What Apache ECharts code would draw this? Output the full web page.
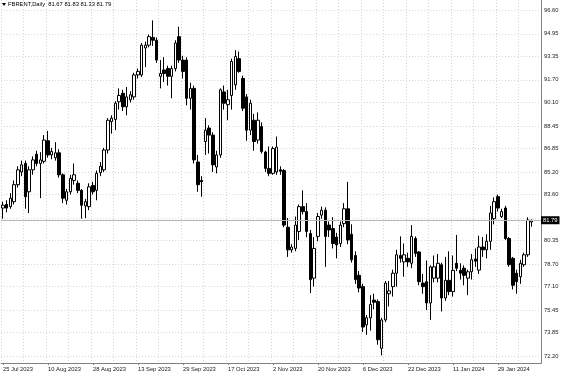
<!DOCTYPE html>
<html>
<head>
<meta charset="utf-8">
<script src="https://cdn.jsdelivr.net/npm/echarts@6/dist/echarts.min.js"></script>
<style>
html,body{margin:0;padding:0;background:#fff;}
#chart{width:564px;height:376px;}
</style>
</head>
<body>
<div id="chart"></div>
<script>
const symbolName = 'FBRENT,Daily';

const dates = [
'2023-07-25','2023-07-26','2023-07-27','2023-07-28','2023-07-31',
'2023-08-01','2023-08-02','2023-08-03','2023-08-04','2023-08-07','2023-08-08','2023-08-09','2023-08-10','2023-08-11','2023-08-14','2023-08-15','2023-08-16','2023-08-17','2023-08-18','2023-08-21','2023-08-22','2023-08-23','2023-08-24','2023-08-25','2023-08-28','2023-08-29','2023-08-30','2023-08-31',
'2023-09-01','2023-09-04','2023-09-05','2023-09-06','2023-09-07','2023-09-08','2023-09-11','2023-09-12','2023-09-13','2023-09-14','2023-09-15','2023-09-18','2023-09-19','2023-09-20','2023-09-21','2023-09-22','2023-09-25','2023-09-26','2023-09-27','2023-09-28','2023-09-29',
'2023-10-02','2023-10-03','2023-10-04','2023-10-05','2023-10-06','2023-10-09','2023-10-10','2023-10-11','2023-10-12','2023-10-13','2023-10-16','2023-10-17','2023-10-18','2023-10-19','2023-10-20','2023-10-23','2023-10-24','2023-10-25','2023-10-26','2023-10-27','2023-10-30','2023-10-31',
'2023-11-01','2023-11-02','2023-11-03','2023-11-06','2023-11-07','2023-11-08','2023-11-09','2023-11-10','2023-11-13','2023-11-14','2023-11-15','2023-11-16','2023-11-17','2023-11-20','2023-11-21','2023-11-22','2023-11-23','2023-11-24','2023-11-27','2023-11-28','2023-11-29','2023-11-30',
'2023-12-01','2023-12-04','2023-12-05','2023-12-06','2023-12-07','2023-12-08','2023-12-11','2023-12-12','2023-12-13','2023-12-14','2023-12-15','2023-12-18','2023-12-19','2023-12-20','2023-12-21','2023-12-22','2023-12-26','2023-12-27','2023-12-28','2023-12-29',
'2024-01-02','2024-01-03','2024-01-04','2024-01-05','2024-01-08','2024-01-09','2024-01-10','2024-01-11','2024-01-12','2024-01-15','2024-01-16','2024-01-17','2024-01-18','2024-01-19','2024-01-22','2024-01-23','2024-01-24','2024-01-25','2024-01-26','2024-01-29','2024-01-30','2024-01-31',
'2024-02-01','2024-02-02','2024-02-05','2024-02-06','2024-02-07','2024-02-08','2024-02-09'
];

const open = [
82.65,82.9,82.75,83.1,84.3,85.2,85.8,83.8,85.35,86.45,
85.8,85.95,87.4,86.4,86.2,86.55,85.0,83.2,83.8,84.6,
84.4,83.9,82.8,82.75,84.25,83.9,85.15,85.35,86.75,88.75,
88.9,90.15,90.75,89.8,90.3,90.5,92.05,92.05,93.95,94.15,
94.7,94.5,91.95,92.4,92.5,91.95,92.5,94.75,93.1,93.1,
90.4,91.1,85.9,84.6,87.35,88.3,87.8,85.55,86.4,90.85,
89.95,90.6,91.35,93.2,91.8,90.5,88.15,88.85,87.45,88.4,
86.6,85.45,85.1,85.2,85.35,85.3,81.3,79.7,79.8,81.0,
82.75,82.4,80.85,77.7,80.65,82.15,82.5,81.45,81.2,80.6,
80.15,81.55,82.6,80.8,79.3,77.9,77.1,74.4,74.9,76.15,
76.05,72.75,74.75,76.6,77.1,78.05,79.3,78.85,79.1,78.75,
80.5,79.55,77.35,77.45,75.95,77.7,77.7,78.65,76.3,77.55,
76.75,78.75,78.25,78.4,77.7,78.15,79.05,78.27,79.9,79.7,
80.3,81.9,83.45,82.05,82.65,80.5,79.1,78.05,77.8,78.65,
79.35,81.67
];
const close = [
82.85,82.65,83.35,84.3,85.35,85.7,83.45,85.35,86.05,85.8,
86.05,87.45,86.4,86.65,86.55,85.0,83.35,83.8,84.75,85.0,
83.9,82.85,83.1,84.15,83.8,85.1,85.6,86.75,88.85,89.0,
90.05,90.6,89.8,90.5,90.65,92.05,92.3,94.15,94.15,94.75,
94.5,93.1,92.15,92.15,91.95,92.5,94.3,93.1,92.3,90.4,
91.1,86.05,84.3,84.5,88.15,87.8,85.7,86.4,91.0,90.05,
90.3,93.0,93.35,92.3,89.7,88.15,90.05,87.35,88.85,86.65,
85.45,85.1,86.85,86.95,85.25,81.45,79.7,79.9,81.45,82.75,
82.4,81.0,77.6,79.8,82.05,82.5,80.65,81.1,80.15,80.05,
81.45,82.6,80.4,79.0,77.6,77.0,74.25,74.9,75.85,76.0,
73.35,74.75,77.35,76.8,78.05,79.35,79.1,79.35,78.85,80.65,
79.45,77.45,77.1,75.95,78.5,78.5,78.75,76.3,77.55,76.75,
78.25,78.4,78.05,77.9,78.15,79.0,78.9,79.9,79.7,80.3,
82.3,83.1,82.65,82.4,80.5,78.65,77.2,77.45,78.75,79.35,
81.8,81.79
];
const low = [
81.9,82.35,82.6,82.9,84.1,84.9,82.6,82.3,85.0,85.6,
83.35,85.8,86.2,86.1,86.0,84.8,83.0,82.9,83.6,84.3,
83.7,81.9,81.95,82.5,83.6,83.2,84.9,85.2,86.5,87.9,
88.15,89.6,89.5,89.2,90.1,90.3,91.8,91.9,92.6,94.0,
94.1,92.9,91.1,91.55,91.3,90.4,92.3,92.9,91.8,89.9,
89.6,85.8,83.8,83.45,86.4,86.5,85.2,85.1,86.2,89.6,
88.85,89.6,91.0,92.2,89.5,87.4,87.8,86.7,87.2,86.5,
85.2,84.9,85.0,85.0,85.0,81.3,79.2,79.5,79.6,80.4,
82.2,80.6,76.65,77.1,80.3,81.9,78.5,80.6,79.8,79.1,
79.9,81.3,80.1,78.8,77.3,76.7,73.9,73.7,74.0,75.5,
73.0,72.25,74.6,75.7,76.4,77.1,78.8,77.8,78.5,78.4,
79.2,77.2,76.6,75.45,74.75,77.4,77.4,75.35,76.1,76.5,
76.4,78.2,77.6,77.2,76.5,77.6,78.5,78.0,79.2,79.1,
79.7,81.5,82.4,81.95,80.4,78.5,76.9,76.6,77.3,78.5,
79.2,81.33
];
const high = [
83.1,83.2,83.7,84.6,85.6,86.0,86.0,85.6,86.3,86.7,
86.6,87.8,88.1,86.9,87.3,86.8,85.1,84.0,85.0,85.8,
84.6,84.0,83.3,84.4,84.5,85.3,85.9,86.9,89.0,89.2,
90.2,91.1,91.0,91.2,90.9,92.2,92.5,94.3,94.4,94.9,
95.9,94.7,93.1,93.3,92.7,92.7,94.5,95.45,93.4,93.3,
91.5,91.3,86.4,84.9,89.0,88.5,88.0,86.7,91.1,91.3,
91.0,93.2,93.8,93.7,92.0,90.7,90.3,89.3,89.4,88.7,
86.7,87.0,87.0,87.7,85.6,85.4,81.95,80.1,82.05,82.9,
83.9,83.0,81.1,80.6,82.3,82.75,82.7,81.7,82.0,80.9,
81.7,83.0,84.5,81.5,79.6,78.2,77.3,75.1,76.5,76.6,
76.2,74.9,77.5,77.5,78.3,79.7,80.65,80.15,79.5,81.45,
80.65,79.6,78.0,78.95,78.6,79.3,79.4,78.8,79.2,79.6,
79.3,80.75,78.75,78.6,78.3,79.4,79.8,80.7,80.6,80.8,
82.8,83.4,83.6,82.6,82.8,80.6,79.2,78.3,79.0,79.5,
82.0,81.83
];

const priceTicks = [72.20,73.85,75.45,77.10,78.70,80.35,81.95,83.60,85.20,86.85,88.45,90.10,91.70,93.35,94.95,96.60];
const hiddenTickLabels = [81.95];

const monthNames = ['Jan','Feb','Mar','Apr','May','Jun','Jul','Aug','Sep','Oct','Nov','Dec'];
function fmtDate(s) {
  if (!s) return '';
  const p = s.split('-');
  return parseInt(p[2], 10) + ' ' + monthNames[parseInt(p[1], 10) - 1] + ' ' + p[0];
}

const last = close.length - 1;
const lastClose = close[last];
const headerText = symbolName + '  ' + open[last].toFixed(2) + ' ' + high[last].toFixed(2) + ' ' +
  low[last].toFixed(2) + ' ' + lastClose.toFixed(2);

const candleData = open.map((o, i) => [o, close[i], low[i], high[i]]);
const xCats = dates.concat(['', '']);
const FONT = '"Liberation Sans", Arial, sans-serif';
const GRID_COLOR = '#d6d6d6';

const chart = echarts.init(document.getElementById('chart'), null, {renderer: 'canvas'});
chart.setOption({
  animation: false,
  backgroundColor: '#ffffff',
  textStyle: {fontFamily: FONT},
  grid: {left: 0, right: 23, top: 0, bottom: 13, containLabel: false},
  xAxis: {
    type: 'category',
    data: xCats,
    boundaryGap: true,
    axisLine: {show: true, lineStyle: {color: '#808080', width: 1}},
    axisTick: {show: true, interval: 11, alignWithLabel: true, length: 2, lineStyle: {color: '#808080'}},
    axisLabel: {interval: 11, align: 'left', margin: 3, fontSize: 5.8, color: '#1a1a1a', fontFamily: FONT, formatter: fmtDate},
    splitLine: {show: true, interval: 5, lineStyle: {color: GRID_COLOR, type: [1, 2], width: 1}}
  },
  yAxis: {
    type: 'value',
    position: 'right',
    min: 71.71,
    max: 97.34,
    axisLine: {show: true, lineStyle: {color: '#808080', width: 1}},
    axisTick: {show: false, customValues: priceTicks},
    axisLabel: {
      customValues: priceTicks.filter(v => hiddenTickLabels.indexOf(v) < 0),
      fontSize: 5.8, color: '#1a1a1a', margin: 3, fontFamily: FONT,
      formatter: v => Number(v).toFixed(2)
    },
    splitLine: {show: true, lineStyle: {color: GRID_COLOR, type: [1, 2], width: 1}}
  },
  series: [{
    type: 'candlestick',
    data: candleData,
    barWidth: 3,
    itemStyle: {color: '#ffffff', color0: '#000000', borderColor: '#000000', borderColor0: '#000000', borderWidth: 1},
    markLine: {
      silent: true,
      symbol: ['none', 'none'],
      animation: false,
      lineStyle: {color: '#b4b4b4', type: 'solid', width: 1},
      label: {
        show: true, position: 'end', distance: 0,
        formatter: lastClose.toFixed(2),
        backgroundColor: '#000', color: '#fff', padding: [1, 2, 1, 2],
        fontSize: 5.8, fontFamily: FONT
      },
      data: [{yAxis: lastClose}]
    }
  }],
  graphic: [
    {type: 'polygon', shape: {points: [[2, 3], [6, 3], [4, 6]]}, style: {fill: '#000'}},
    {type: 'text', left: 8, top: 1.5, style: {text: headerText, font: '5.8px ' + FONT, fill: '#000'}}
  ]
});
</script>
</body>
</html>
